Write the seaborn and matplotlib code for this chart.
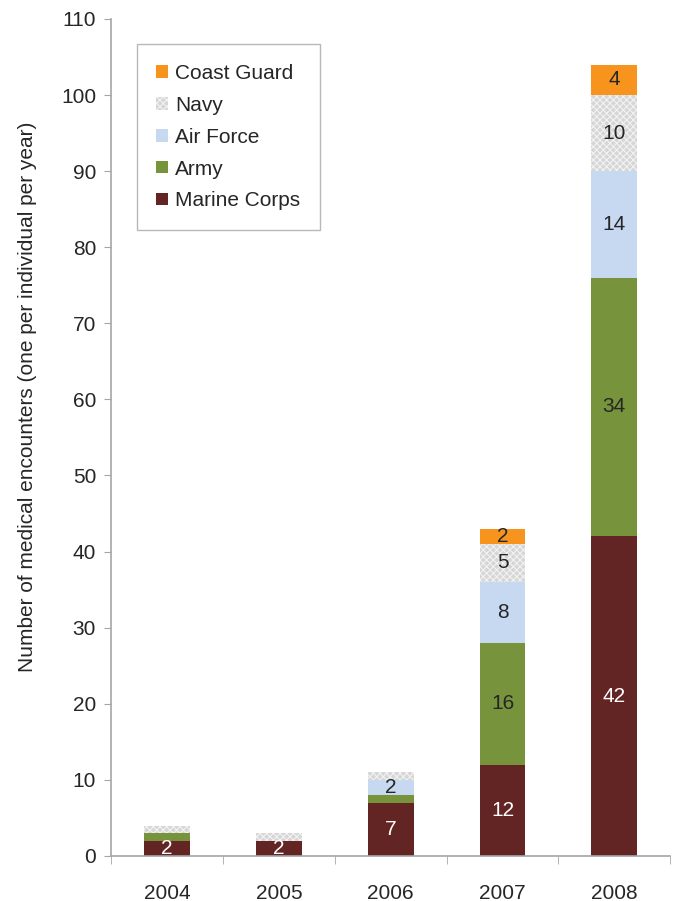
import numpy as np
import seaborn as sns
import matplotlib.pyplot as plt

years = ["2004", "2005", "2006", "2007", "2008"]
marine = [2, 2, 7, 12, 42]
army = [1, 0, 1, 16, 34]
air_force = [0, 0, 2, 8, 14]
navy = [1, 1, 1, 5, 10]
coast_guard = [0, 0, 0, 2, 4]

series = [
    ("Marine Corps", marine, "#632523", "white"),
    ("Army", army, "#77933c", "#262626"),
    ("Air Force", air_force, "#c6d9f1", "#262626"),
    ("Navy", navy, "#d6d6d6", "#262626"),
    ("Coast Guard", coast_guard, "#f7941e", "#262626"),
]

sns.set_style("white")
plt.rcParams["font.family"] = ["Liberation Sans", "DejaVu Sans"]
plt.rcParams["hatch.linewidth"] = 0.8
plt.rcParams["hatch.color"] = "#f2f2f2"

fig = plt.figure(figsize=(6.79, 9.01), dpi=100)
ax = fig.add_axes([0.164, 0.050, 0.823, 0.929])

bottom = np.zeros(len(years))
handles = []
for name, vals, color, tcolor in series:
    vals = np.array(vals, dtype=float)
    hatch = "xxxxx" if name == "Navy" else None
    edge = "#f2f2f2" if hatch else color
    sns.barplot(x=years, y=vals, bottom=bottom, color=color, width=0.41,
                saturation=1, ax=ax, hatch=hatch, edgecolor=edge, linewidth=0)
    for i, v in enumerate(vals):
        if v >= 2:
            ax.text(i, bottom[i] + v / 2, f"{int(v)}", ha="center", va="center",
                    fontsize=15, color=tcolor)
    handles.append(plt.Rectangle((0, 0), 1, 1, facecolor=color, hatch=hatch,
                                 edgecolor=edge, linewidth=0, label=name))
    bottom = bottom + vals

ax.set_ylim(0, 110)
ax.set_xlim(-0.5, 4.5)
ax.set_yticks(range(0, 111, 10))
ax.set_ylabel("Number of medical encounters (one per individual per year)",
              fontsize=15, color="#262626")
ax.yaxis.set_label_coords(-0.133, 0.548)
ax.set_xlabel("")
ax.tick_params(axis="y", labelsize=15, colors="#262626", length=5,
               color="#a6a6a6", left=True, pad=6)
ax.tick_params(axis="x", labelsize=15, colors="#262626", length=0, pad=20)
ax.set_xticks(np.arange(-0.5, 5, 1), minor=True)
ax.tick_params(axis="x", which="minor", length=6, color="#a6a6a6", bottom=True)
sns.despine(ax=ax)
for s in ["left", "bottom"]:
    ax.spines[s].set_color("#a6a6a6")
    ax.spines[s].set_linewidth(1.2)

leg = ax.legend(handles=handles[::-1], loc="upper left",
                bbox_to_anchor=(0.045, 0.970), fontsize=15, frameon=True,
                fancybox=False, edgecolor="#a6a6a6", handlelength=0.55,
                handleheight=0.55, handletextpad=0.35, labelspacing=0.62,
                borderpad=0.95, borderaxespad=0)
leg.get_frame().set_linewidth(1.0)
for t in leg.get_texts():
    t.set_color("#262626")

fig.savefig("out.png", dpi=100)
